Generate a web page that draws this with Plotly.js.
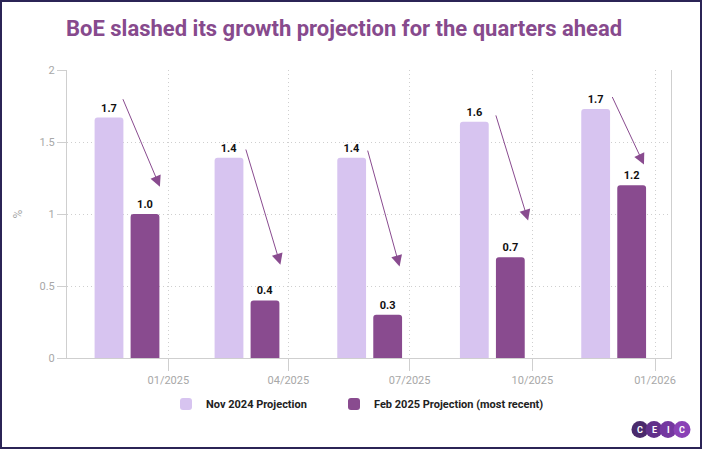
<!DOCTYPE html>
<html>
<head>
<meta charset="utf-8">
<script src="https://cdn.plot.ly/plotly-3.0.1.min.js"></script>
<style>
  html, body { margin: 0; padding: 0; background: #fff; }
  #wrap { position: relative; width: 702px; height: 449px; }
  #chart { width: 702px; height: 449px; }
  #frame { position: absolute; left: 0; top: 0; width: 702px; height: 449px; box-sizing: border-box; border: 2px solid #2b2456; pointer-events: none; }
</style>
</head>
<body>
<div id="wrap"><div id="chart"></div><div id="frame"></div></div>
<script>
// ---- data ----
const quarters = ['2024-12-01', '2025-03-01', '2025-06-01', '2025-09-01', '2025-12-01'];
const nov2024 = [1.67, 1.39, 1.39, 1.64, 1.73];
const feb2025 = [1.0, 0.4, 0.3, 0.7, 1.2];
const seriesNames = ['Nov 2024 Projection', 'Feb 2025 Projection (most recent)'];
const titleText = 'BoE slashed its growth projection for the quarters ahead';
const yTitle = '%';
const logoLetters = ['C', 'E', 'I', 'C'];

// ---- styling / positioning ----
const W = 702, H = 449;
const M = { l: 67, r: 31, t: 70, b: 91 };
const PW = W - M.l - M.r, PH = H - M.t - M.b;
const pxX = px => (px - M.l) / PW;
const pxY = py => (H - M.b - py) / PH;

const cLight = '#d7c4f0';
const cDark = '#894b8f';
const gridC = '#cfcfcf';
const tickC = '#a8a8a8';

// arrow geometry (px): head offset from group centre / Feb bar top, tail offset from head
const arrowHead = [[32.9, 27.3], [33.4, 35.7], [29.9, 48.4], [35.8, 36.6], [30.3, 20.7]];
const arrowTail = [[-37.6, -89], [-35, -116.7], [-32.3, -117.3], [-32.7, -106.7], [-32.4, -69]];

const lblFont = { family: 'Roboto, sans-serif', size: 11, color: '#111', weight: 700 };
const legFont = { family: 'Roboto, sans-serif', size: 11, color: '#222', weight: 700 };

const traces = [
  { type: 'bar', name: seriesNames[0], x: quarters, y: nov2024, legend: 'legend',
    marker: { color: cLight, cornerradius: 3 },
    texttemplate: '%{y:.1f}', textposition: 'outside', textfont: lblFont, cliponaxis: false, hoverinfo: 'skip' },
  { type: 'bar', name: seriesNames[1], x: quarters, y: feb2025, legend: 'legend2',
    marker: { color: cDark, cornerradius: 3 },
    texttemplate: '%{y:.1f}', textposition: 'outside', textfont: lblFont, cliponaxis: false, hoverinfo: 'skip' }
];

const annotations = quarters.map((q, i) => ({
  x: q, y: feb2025[i], xref: 'x', yref: 'y', text: '',
  showarrow: true, arrowhead: 2, arrowsize: 2.2, arrowwidth: 1, arrowcolor: cDark,
  xshift: arrowHead[i][0], yshift: arrowHead[i][1],
  ax: arrowTail[i][0], ay: arrowTail[i][1], axref: 'pixel', ayref: 'pixel', standoff: 0
}));

// CEIC logo
const logoColors = ['#4a2a6c', '#61308a', '#7437a0', '#8a42b6'];
const logoCx = [640, 654, 668, 682];
const logoCy = 429.5, logoR = 8.5;
const shapes = logoCx.map((cx, i) => ({
  type: 'circle', xref: 'paper', yref: 'paper', layer: 'above',
  x0: pxX(cx - logoR), x1: pxX(cx + logoR), y0: pxY(logoCy + logoR), y1: pxY(logoCy - logoR),
  fillcolor: logoColors[i], line: { width: 0 }
}));
logoCx.forEach((cx, i) => annotations.push({
  xref: 'paper', yref: 'paper', x: pxX(cx), y: pxY(logoCy), xanchor: 'center', yanchor: 'middle',
  text: logoLetters[i], showarrow: false,
  font: { family: 'Roboto, sans-serif', size: 9, color: '#fff', weight: 700 }
}));

const layout = {
  width: W, height: H,
  margin: M,
  paper_bgcolor: '#fff', plot_bgcolor: '#fff',
  font: { family: 'Roboto, sans-serif' },
  title: { text: titleText, xref: 'container', yref: 'container', x: 66 / W, xanchor: 'left',
           y: 1 - 28 / H, yanchor: 'middle',
           font: { family: 'Roboto, sans-serif', size: 22, color: '#874a8d', weight: 700 } },
  barmode: 'group', bargap: 0.40, bargroupgap: 0.2,
  showlegend: true,
  legend: { orientation: 'h', x: pxX(166), xanchor: 'left', y: pxY(404), yanchor: 'middle',
            font: legFont, itemclick: false },
  legend2: { orientation: 'h', x: pxX(334), xanchor: 'left', y: pxY(404), yanchor: 'middle',
            font: legFont, itemclick: false },
  xaxis: { type: 'date', range: ['2024-10-17', '2026-01-13'], tick0: '2025-01-01', dtick: 'M3',
           tickformat: '%m/%Y', ticks: 'outside', ticklen: 12, tickcolor: gridC,
           showgrid: true, gridcolor: gridC, griddash: '1px,3px',
           showline: true, linecolor: gridC, linewidth: 1, zeroline: false,
           tickfont: { family: 'Roboto, sans-serif', size: 11, color: tickC }, fixedrange: true },
  yaxis: { range: [0, 2], dtick: 0.5, ticks: 'outside', ticklen: 9, tickcolor: gridC,
           showgrid: true, gridcolor: gridC, griddash: '1px,3px',
           showline: true, mirror: true, linecolor: gridC, linewidth: 1, zeroline: false,
           tickfont: { family: 'Roboto, sans-serif', size: 11, color: tickC },
           title: { text: yTitle, font: { family: 'Roboto, sans-serif', size: 12, color: tickC }, standoff: 14 },
           fixedrange: true },
  annotations: annotations,
  shapes: shapes
};

Plotly.newPlot('chart', traces, layout, { displayModeBar: false, staticPlot: true });
</script>
</body>
</html>
